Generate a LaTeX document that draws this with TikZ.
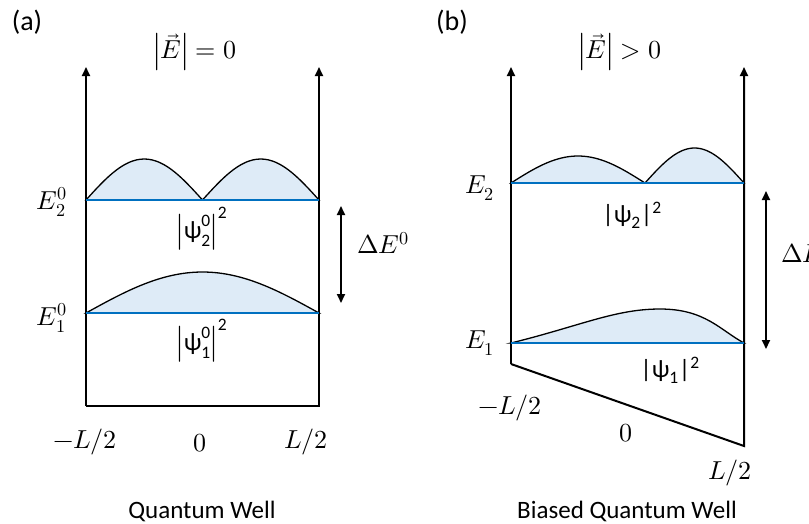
\documentclass[tikz,border=0pt]{standalone}
\usepackage{amsmath}
\usepackage{fontspec}
\usepackage{unicode-math}
\setmainfont{Carlito}
\setmathfont{Latin Modern Math}
\usetikzlibrary{arrows.meta}

\definecolor{levelblue}{RGB}{0,112,192}
\definecolor{wavefill}{RGB}{222,235,247}

\tikzset{
  wall/.style={line width=2pt, -{Triangle[length=9pt,width=8pt]}},
  level/.style={line width=2.7pt, draw=levelblue},
  wave/.style={line width=1.3pt, fill=wavefill},
  gap/.style={line width=1.8pt, {Triangle[length=9pt,width=8pt]}-{Triangle[length=9pt,width=8pt]}},
  lbl/.style={inner sep=0pt, font=\fontsize{25}{30}\selectfont},
  mlbl/.style={inner sep=0pt, font=\fontsize{26}{31}\selectfont},
  panel/.style={inner sep=0pt, font=\fontsize{28}{33}\selectfont},
}

\begin{document}
\begin{tikzpicture}[x=1pt, y=-1pt]
  \useasboundingbox (0,0) rectangle (809,523);

  % (a) quantum well, no field
  \coordinate (aTL) at (86,67);
  \coordinate (aBL) at (86,406);
  \coordinate (aBR) at (319,406);
  \coordinate (aTR) at (319,67);
  \coordinate (a2L) at (86,200);
  \coordinate (a2R) at (319,200);
  \coordinate (a1L) at (86,313);
  \coordinate (a1R) at (319,313);

  \filldraw[wave] plot[domain=0:1, samples=61] ({86+233*\x},{200-41*abs(sin(360*\x))}) -- cycle;
  \filldraw[wave] plot[domain=0:1, samples=61] ({86+233*\x},{313-41*sin(180*\x)}) -- cycle;

  \draw[wall] (aBL) -- (aTL);
  \draw[wall] (aBL) -- (aBR) -- (aTR);
  \draw[level] (a2L) -- (a2R);
  \draw[level] (a1L) -- (a1R);

  \coordinate (dEaT) at (341,206);
  \coordinate (dEaB) at (341,303);
  \draw[gap] (dEaB) -- (dEaT);

  \node[panel] (labA) at (27,22) {(a)};
  \node[mlbl] (fieldA) at (195,52) {$\left|\vec{E}\right| = 0$};
  \node[mlbl] (E2a) at (52,202) {$E_2^0$};
  \node[mlbl] (E1a) at (52,318) {$E_1^0$};
  \node[lbl] (psi2a) at (202,229) {$\left|\text{ψ}^{\text{0}}_{\text{2}}\right|^{\text{2}}$};
  \node[lbl] (psi1a) at (202,341) {$\left|\text{ψ}^{\text{0}}_{\text{1}}\right|^{\text{2}}$};
  \node[mlbl, anchor=west] (dEa) at (357,243) {$\Delta E^0$};
  \node[mlbl] (xla) at (85,442) {$-L/2$};
  \node[mlbl] (x0a) at (200,443) {$0$};
  \node[mlbl] (xra) at (306,442) {$L/2$};
  \node[lbl] (titA) at (202,511) {Quantum Well};

  % (b) biased quantum well
  \coordinate (bTL) at (511,67);
  \coordinate (bBL) at (511,364);
  \coordinate (bBR) at (744,446);
  \coordinate (bTR) at (744,67);
  \coordinate (b2L) at (511,183);
  \coordinate (b2R) at (744,183);
  \coordinate (b1L) at (511,343);
  \coordinate (b1R) at (744,343);

  \filldraw[wave] plot[domain=0:1, samples=41] ({511+134*\x},{183-27*sin(180*\x)})
    -- plot[domain=0:1, samples=41] ({645+99*\x},{183-35*sin(180*\x)}) -- cycle;
  \filldraw[wave] (b1L) .. controls (580,326) and (615,309) .. (660,309)
    .. controls (705,309) and (720,330) .. (b1R) -- cycle;

  \draw[wall] (bBL) -- (bTL);
  \draw[wall] (bBL) -- (bBR) -- (bTR);
  \draw[level] (b2L) -- (b2R);
  \draw[level] (b1L) -- (b1R);

  \coordinate (dEbT) at (766,191);
  \coordinate (dEbB) at (766,349);
  \draw[gap] (dEbB) -- (dEbT);

  \node[panel] (labB) at (452,22) {(b)};
  \node[mlbl] (fieldB) at (620,52) {$\left|\vec{E}\right| > 0$};
  \node[mlbl] (E2b) at (480,188) {$E_2$};
  \node[mlbl] (E1b) at (480,343) {$E_1$};
  \node[lbl] (psi2b) at (632,215) {|ψ\textsubscript{2}|\textsuperscript{2}};
  \node[lbl] (psi1b) at (670,370) {|ψ\textsubscript{1}|\textsuperscript{2}};
  \node[mlbl, anchor=west] (dEb) at (781,253) {$\Delta E$};
  \node[mlbl] (xlb) at (510,408) {$-L/2$};
  \node[mlbl] (x0b) at (626,433) {$0$};
  \node[mlbl] (xrb) at (730,473) {$L/2$};
  \node[lbl] (titB) at (627,511) {Biased Quantum Well};
\end{tikzpicture}
\end{document}
